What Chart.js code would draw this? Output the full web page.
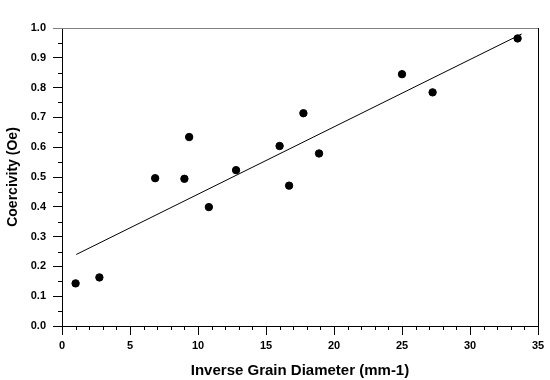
<!DOCTYPE html>
<html>
<head>
<meta charset="utf-8">
<script src="https://cdn.jsdelivr.net/npm/chart.js@4/dist/chart.umd.min.js"></script>
<style>
  html, body { margin: 0; padding: 0; background: #fff; }
  #wrap { width: 550px; height: 380px; }
</style>
</head>
<body>
<div id="wrap"><canvas id="c" width="550" height="380"></canvas></div>
<script>
// Data
const grainInv = [1.0, 2.75, 6.85, 9.0, 9.35, 10.8, 12.8, 16.0, 16.7, 17.75, 18.9, 25.0, 27.25, 33.5];
const coercivity = [0.143, 0.163, 0.496, 0.494, 0.634, 0.399, 0.523, 0.604, 0.471, 0.714, 0.579, 0.845, 0.784, 0.965];
const fitX = [1.05, 33.8];
const fitY = [0.240, 0.980];
const xTitle = 'Inverse Grain Diameter (mm-1)';
const yTitle = 'Coercivity (Oe)';

const pts = grainInv.map((x, i) => ({ x: x, y: coercivity[i] }));
const fit = fitX.map((x, i) => ({ x: x, y: fitY[i] }));

const FONT = "'Liberation Sans', Arial, sans-serif";

const extras = {
  id: 'extras',
  afterDraw(chart) {
    const ctx = chart.ctx;
    const a = chart.chartArea;
    const xs = chart.scales.x, ys = chart.scales.y;
    ctx.save();
    ctx.lineWidth = 1;
    ctx.strokeStyle = '#000';
    ctx.beginPath();
    for (let v = 0; v <= 35; v += 1) {
      if (v % 5 === 0) continue;
      const px = Math.round(xs.getPixelForValue(v)) + 0.5;
      ctx.moveTo(px, a.bottom);
      ctx.lineTo(px, a.bottom + 4);
    }
    for (let k = 0; k < 10; k++) {
      const v = k * 0.1 + 0.05;
      const py = Math.round(ys.getPixelForValue(v)) + 0.5;
      ctx.moveTo(a.left - 4, py);
      ctx.lineTo(a.left, py);
    }
    ctx.stroke();
    ctx.beginPath();
    const rx = Math.round(a.right) + 0.5;
    ctx.moveTo(rx, a.top);
    ctx.lineTo(rx, a.bottom);
    ctx.stroke();
    ctx.strokeStyle = '#808080';
    ctx.beginPath();
    const ty = Math.round(a.top) + 0.5;
    ctx.moveTo(a.left, ty);
    ctx.lineTo(a.right, ty);
    ctx.stroke();
    ctx.restore();
  }
};

new Chart(document.getElementById('c'), {
  type: 'scatter',
  data: {
    datasets: [
      {
        label: 'fit',
        data: fit,
        showLine: true,
        borderColor: '#000',
        borderWidth: 1,
        pointRadius: 0,
        fill: false,
        order: 2
      },
      {
        label: 'data',
        data: pts,
        backgroundColor: '#000',
        borderColor: '#000',
        pointRadius: 3.7,
        pointHoverRadius: 3.7,
        order: 1
      }
    ]
  },
  options: {
    responsive: false,
    animation: false,
    devicePixelRatio: 1,
    layout: { padding: { left: 0, right: 12, top: 28, bottom: 0 } },
    plugins: {
      legend: { display: false },
      tooltip: { enabled: false }
    },
    scales: {
      x: {
        type: 'linear',
        min: 0,
        max: 35,
        afterFit(s) { s.height = 54; },
        border: { display: true, color: '#000', width: 1 },
        grid: { drawOnChartArea: false, drawTicks: true, tickLength: 9, color: '#000', tickColor: '#000' },
        ticks: { stepSize: 5, color: '#000', padding: 4, maxRotation: 0, font: { family: FONT, size: 11, weight: 'bold' } },
        title: { display: true, text: xTitle, color: '#000', padding: { top: 4, bottom: 0 }, font: { family: FONT, size: 15, weight: 'bold' } }
      },
      y: {
        type: 'linear',
        min: 0,
        max: 1.0,
        afterFit(s) { s.width = 62; },
        border: { display: true, color: '#000', width: 1 },
        grid: {
          drawOnChartArea: false, drawTicks: true, tickLength: 9, color: '#000',
          tickColor: (c) => (c.tick && c.tick.value === 1 ? '#808080' : '#000')
        },
        ticks: {
          stepSize: 0.1, color: '#000', padding: 7,
          font: { family: FONT, size: 11, weight: 'bold' },
          callback: (v) => Number(v).toFixed(1)
        },
        title: { display: true, text: yTitle, color: '#000', padding: { top: 5, bottom: 0 }, font: { family: FONT, size: 14, weight: 'bold' } }
      }
    }
  },
  plugins: [extras]
});
</script>
</body>
</html>
